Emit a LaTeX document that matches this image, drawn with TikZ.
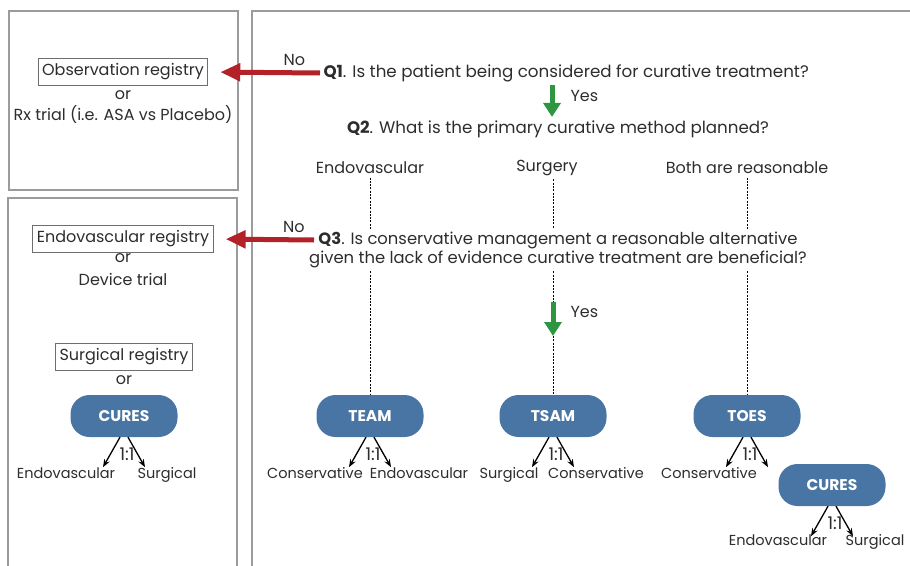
\documentclass[tikz,border=0pt]{standalone}
\usepackage{fontspec}
\setmainfont{Poppins}
\usetikzlibrary{arrows.meta}

\definecolor{panelgray}{RGB}{155,155,155}
\definecolor{boxgray}{RGB}{110,110,110}
\definecolor{pillblue}{RGB}{72,117,163}
\definecolor{nored}{RGB}{178,34,40}
\definecolor{yesgreen}{RGB}{46,150,64}
\definecolor{txtgray}{RGB}{45,45,45}

\begin{document}
\begin{tikzpicture}[x=1pt, y=-1pt, text=txtgray, font=\fontsize{16}{19}\selectfont]
	\tikzstyle{panel}=[draw=panelgray, line width=1.2pt]
	\tikzstyle{regbox}=[draw=boxgray, line width=0.8pt, minimum height=27pt, inner xsep=4pt]
	\tikzstyle{question}=[font=\fontsize{16.7}{19}\selectfont]
	\tikzstyle{trial}=[rectangle, rounded corners=19pt, fill=pillblue, text=white, font=\fontsize{15.5}{17}\selectfont\bfseries, minimum width=107pt, minimum height=42pt]
	\tikzstyle{noarrow}=[nored, line width=5pt, -{Triangle[length=20pt,width=17pt]}, shorten >=12pt]
	\tikzstyle{yesarrow}=[yesgreen, line width=5pt, -{Triangle[length=14pt,width=17pt]}]
	\tikzstyle{branch}=[black, line width=1.3pt, -{Stealth[length=8pt,width=6pt]}]
	\tikzstyle{guide}=[black, line width=1pt, dash pattern=on 2pt off 1.3pt]
	\tikzstyle{arm}=[anchor=base, font=\fontsize{14.5}{17}\selectfont]
	\clip (0,0) rectangle (910,565);
	% Panels
	\draw[panel] (9,11) rectangle (238,190);
	\draw[panel] (8,198) rectangle (237,580);
	\draw[panel] (252,11) rectangle (930,580);
	%---------------------%
	% Left panels
	\node[regbox] (obs) at (123,72) {Observation registry};
	\node (obs_or) at (123,95) {or};
	\node (rx) at (123,115) {Rx trial (i.e. ASA vs Placebo)};
	\node[regbox] (endo) at (123,239) {Endovascular registry};
	\node (endo_or) at (123,258) {or};
	\node (device) at (123,279) {Device trial};
	\node[regbox] (surg) at (124,357) {Surgical registry};
	\node (surg_or) at (124,380) {or};
	\node[trial] (cures_a) at (124,416) {CURES};
	%---------------------%
	% Questions
	\node[question, anchor=west] (q1) at (320,73) {\textbf{Q1}. Is the patient being considered for curative treatment?};
	\node[question] (q2) at (558,129) {\textbf{Q2}. What is the primary curative method planned?};
	\node[question, align=center, font=\fontsize{16.4}{19}\selectfont] (q3) at (558,250) {\textbf{Q3}. Is conservative management a reasonable alternative\\given the lack of evidence curative treatment are beneficial?};
	% Q1 -> Q2, Q1 -> left
	\coordinate (yes_x) at (552,0);
	\draw[yesarrow] (q1.south -| yes_x) -- (q2.north -| yes_x);
	\node[anchor=west] (yes_a) at (567,96) {Yes};
	\draw[noarrow] (q1.west) -- (obs.east) node[pos=0.23, above=1pt, text=txtgray] {No};
	% Q3 -> left
	\coordinate (q3_no) at (314,240);
	\draw[noarrow] (q3_no) -- (endo.east) node[pos=0.2, above=1pt, text=txtgray] {No};
	%---------------------%
	% Methods and trials
	\foreach \x/\t [count=\i] in {370/Endovascular, 547/Surgery, 747/Both are reasonable}
		\node (opt_\i) at (\x,168) {\t};
	\foreach \x/\t [count=\i] in {370/TEAM, 553/TSAM, 747/TOES}
		\node[trial] (pill_\i) at (\x,416) {\t};
	\node[trial] (cures_b) at (832,485) {CURES};
	\foreach \i in {1,...,3}
		\draw[guide] (opt_\i.south -| pill_\i) -- (pill_\i |- q3.north);
	\foreach \i in {1,3}
		\draw[guide] (q3.south -| pill_\i) -- (pill_\i.north);
	% Surgery -> yes
	\coordinate (yes_top) at (553,302);
	\coordinate (yes_bot) at (553,336);
	\draw[guide] (q3.south -| pill_2) -- (yes_top);
	\draw[yesarrow] (yes_top) -- (yes_bot);
	\draw[guide] (yes_bot) -- (pill_2.north);
	\node[anchor=west] (yes_b) at (567,312) {Yes};
	%---------------------%
	% Randomisation 1:1
	\foreach \p in {cures_a, pill_1, pill_2, pill_3, cures_b} {
		\coordinate (\p_l) at ([shift={(-21,30)}]\p.south);
		\coordinate (\p_r) at ([shift={(21,30)}]\p.south);
		\draw[branch] ([xshift=-4pt]\p.south) -- (\p_l);
		\draw[branch] ([xshift=4pt]\p.south) -- (\p_r);
		\node[font=\fontsize{17.5}{19}\selectfont] (\p_ratio) at ([shift={(3,17)}]\p.south) {1:1};
	}
	\node[arm] (arm_a1) at (66,478) {Endovascular};
	\node[arm] (arm_a2) at (167,478) {Surgical};
	\node[arm] (arm_11) at (315,478) {Conservative};
	\node[arm] (arm_12) at (419,478) {Endovascular};
	\node[arm] (arm_21) at (509,478) {Surgical};
	\node[arm] (arm_22) at (596,478) {Conservative};
	\node[arm] (arm_31) at (709,478) {Conservative};
	\node[arm] (arm_b1) at (778,545) {Endovascular};
	\node[arm] (arm_b2) at (875,545) {Surgical};
	%---------------------%
\end{tikzpicture}
\end{document}
